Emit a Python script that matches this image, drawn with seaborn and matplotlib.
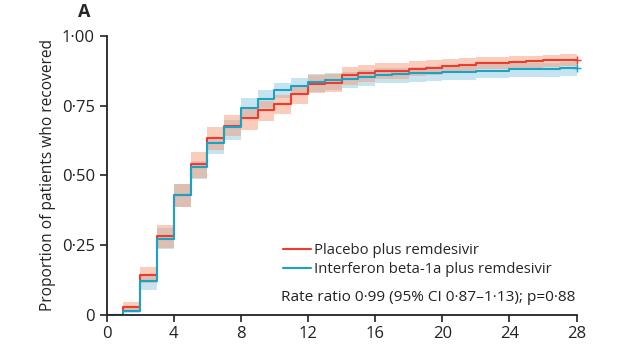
import numpy as np
import pandas as pd
import matplotlib
matplotlib.use("Agg")
import matplotlib.pyplot as plt
from matplotlib.lines import Line2D
import seaborn as sns

# Cumulative recovery by day (step values on [d, d+1))
days = list(range(0, 29))

placebo = [0, 0.028, 0.141, 0.282, 0.43, 0.54, 0.634, 0.678, 0.705, 0.736, 0.757, 0.792, 0.829, 0.833,
           0.859, 0.867, 0.875, 0.875, 0.883, 0.887, 0.891, 0.896, 0.904, 0.904, 0.907, 0.909, 0.913, 0.915, 0.915]
placebo_lo = [0, 0.014, 0.115, 0.24, 0.387, 0.492, 0.592, 0.64, 0.664, 0.696, 0.72, 0.755, 0.794, 0.80,
              0.826, 0.836, 0.845, 0.845, 0.855, 0.86, 0.866, 0.872, 0.88, 0.88, 0.884, 0.886, 0.89, 0.893, 0.893]
placebo_hi = [0, 0.046, 0.172, 0.32, 0.47, 0.584, 0.673, 0.715, 0.741, 0.767, 0.789, 0.824, 0.859, 0.862,
              0.889, 0.896, 0.903, 0.903, 0.91, 0.913, 0.918, 0.921, 0.926, 0.926, 0.928, 0.93, 0.933, 0.935, 0.935]

interferon = [0, 0.014, 0.121, 0.273, 0.43, 0.53, 0.615, 0.672, 0.742, 0.775, 0.805, 0.821, 0.836, 0.842,
              0.846, 0.854, 0.86, 0.862, 0.866, 0.869, 0.872, 0.872, 0.876, 0.876, 0.881, 0.881, 0.881, 0.884, 0.884]
interferon_lo = [0, 0.005, 0.09, 0.235, 0.387, 0.488, 0.576, 0.628, 0.705, 0.741, 0.776, 0.789, 0.80, 0.808,
                 0.813, 0.822, 0.83, 0.832, 0.836, 0.84, 0.844, 0.844, 0.848, 0.848, 0.853, 0.853, 0.853, 0.856, 0.856]
interferon_hi = [0, 0.025, 0.14, 0.31, 0.47, 0.55, 0.636, 0.70, 0.776, 0.806, 0.833, 0.85, 0.864, 0.869,
                 0.872, 0.879, 0.885, 0.887, 0.89, 0.893, 0.895, 0.895, 0.899, 0.899, 0.903, 0.903, 0.903, 0.906, 0.906]

groups = ["Placebo plus remdesivir", "Interferon beta-1a plus remdesivir"]
ytick_vals = [0, 0.25, 0.5, 0.75, 1.0]
ytick_labels = ["0", "0·25", "0·50", "0·75", "1·00"]
xtick_vals = [0, 4, 8, 12, 16, 20, 24, 28]
note = "Rate ratio 0·99 (95% CI 0·87–1·13); p=0·88"

line_colors = {groups[0]: "#ee3b2b", groups[1]: "#1ba3c6"}
band_colors = {groups[0]: "#f49a78", groups[1]: "#8ccbe0"}

df = pd.concat([
    pd.DataFrame({"day": days, "prop": placebo, "lo": placebo_lo, "hi": placebo_hi, "group": groups[0]}),
    pd.DataFrame({"day": days, "prop": interferon, "lo": interferon_lo, "hi": interferon_hi, "group": groups[1]}),
])

sns.set_style("ticks")
plt.rcParams["font.family"] = ["Open Sans", "DejaVu Sans"]

fig = plt.figure(figsize=(6.2, 3.5), dpi=100)
ax = fig.add_axes([0.172, 0.101, 0.758, 0.796])

# blue band first, salmon band over it -> brownish overlap
for g in groups[::-1]:
    sub = df[df["group"] == g]
    ax.fill_between(sub["day"], sub["lo"], sub["hi"], step="post",
                    color=band_colors[g], alpha=0.5, linewidth=0)

sns.lineplot(data=df, x="day", y="prop", hue="group", hue_order=groups,
             palette=line_colors, drawstyle="steps-post", linewidth=1.5,
             errorbar=None, legend=False, ax=ax)

# censor marks at day 28
for g in groups:
    sub = df[df["group"] == g]
    ax.plot(sub["day"].iloc[-1], sub["prop"].iloc[-1], marker="+", markersize=6,
            color=line_colors[g], clip_on=False, markeredgewidth=1)

ax.set_xlim(0, 28)
ax.set_ylim(0, 1.0)
ax.set_xticks(xtick_vals)
ax.set_yticks(ytick_vals)
ax.set_yticklabels(ytick_labels)
ax.set_xlabel("")
ax.set_ylabel("Proportion of patients who recovered", fontsize=11.2, color="#222222")
ax.tick_params(axis="both", labelsize=12, length=5, width=1.2, colors="#222222")
sns.despine(ax=ax)
for s in ["left", "bottom"]:
    ax.spines[s].set_linewidth(1.3)
    ax.spines[s].set_color("#222222")

handles = [Line2D([], [], color=line_colors[g], linewidth=1.5) for g in groups]
ax.legend(handles, groups, loc="center left", bbox_to_anchor=(0.375, 0.196),
          frameon=False, fontsize=10.7, handlelength=1.9, handletextpad=0.2,
          borderpad=0, borderaxespad=0, labelspacing=0.3)
ax.text(10.37, 0.062, note, fontsize=11.1, va="center", ha="left", color="#222222")

fig.text(0.135, 0.965, "A", fontsize=13, fontweight="bold", ha="center", va="center")

fig.savefig("out.png", dpi=100)
